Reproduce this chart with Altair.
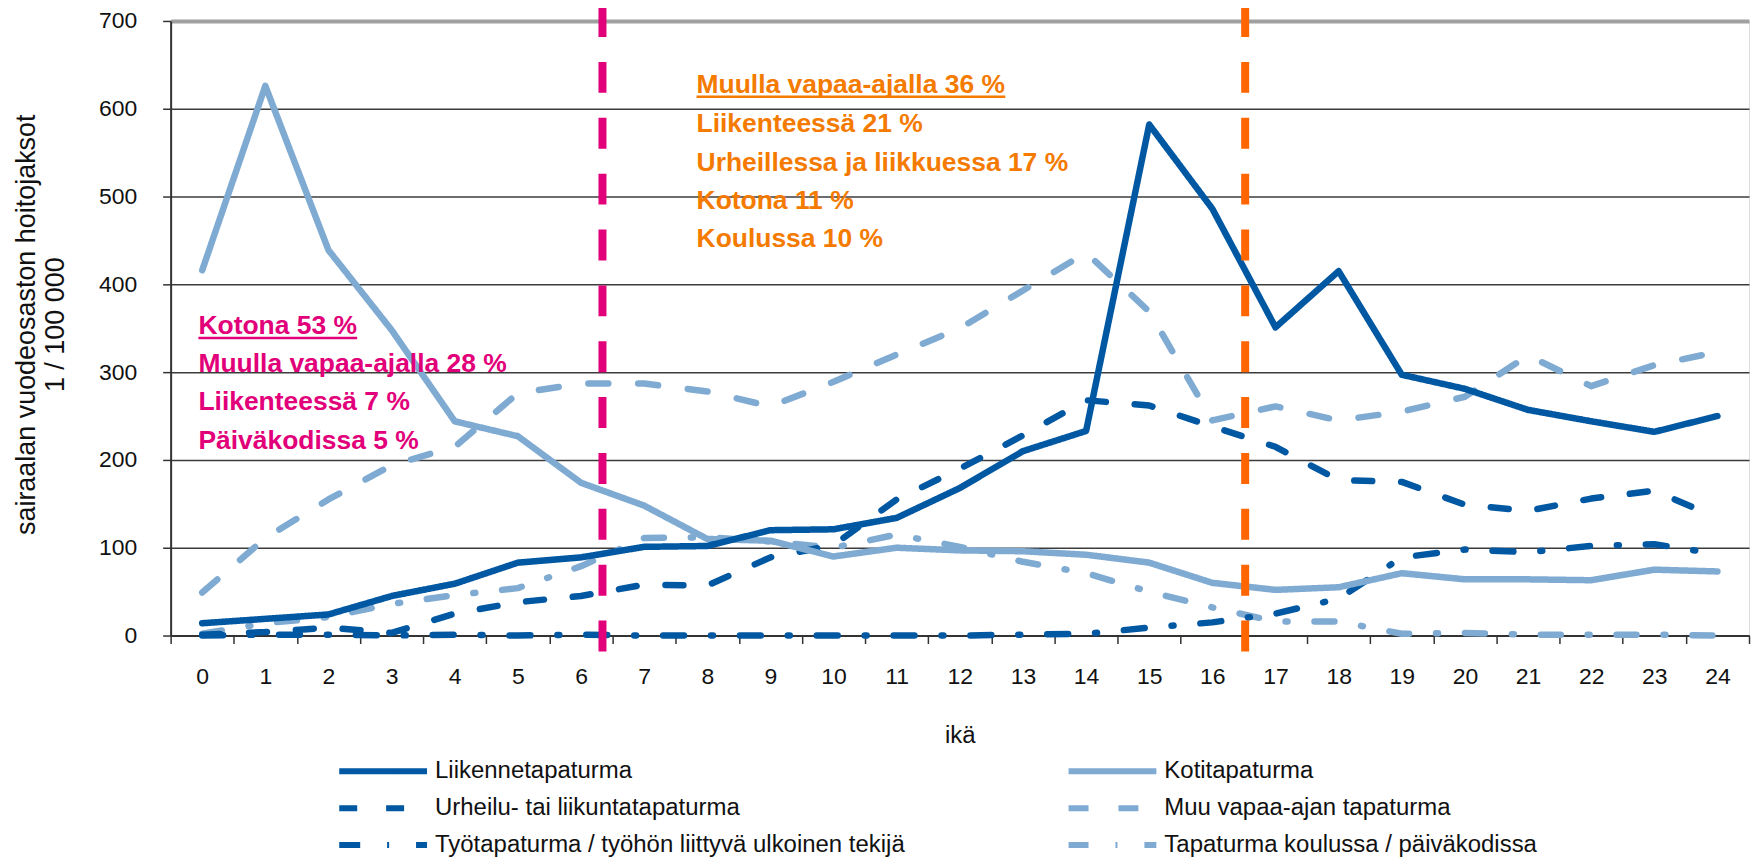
import altair as alt
import pandas as pd

# ---------------- data ----------------
ages = list(range(25))
series_names = [
    "Liikennetapaturma",
    "Kotitapaturma",
    "Urheilu- tai liikuntatapaturma",
    "Muu vapaa-ajan tapaturma",
    "Työtapaturma / työhön liittyvä ulkoinen tekijä",
    "Tapaturma koulussa / päiväkodissa",
]
liikenne = [14, 19, 24, 45, 59, 83, 89, 101, 102, 120, 121, 134, 168, 210, 233, 582, 486, 351, 415, 297, 281, 257, 244, 232, 250]
koti = [416, 626, 439, 348, 244, 227, 174, 148, 110, 108, 90, 100, 97, 96, 92, 83, 60, 52, 55, 71, 64, 64, 63, 75, 73]
urheilu = [1, 4, 9, 3, 25, 38, 45, 58, 57, 89, 103, 155, 190, 228, 268, 262, 238, 215, 177, 175, 149, 142, 156, 165, 134]
muu = [49, 111, 155, 194, 215, 276, 287, 287, 278, 261, 289, 320, 350, 393, 436, 369, 245, 261, 245, 255, 272, 319, 284, 308, 323]
tyo = [0, 1, 1, 0, 1, 0, 1, 0, 0, 0, 0, 0, 0, 1, 2, 9, 15, 25, 42, 89, 98, 95, 102, 104, 93]
koulu = [2, 14, 21, 36, 46, 54, 79, 111, 112, 107, 100, 115, 101, 84, 71, 50, 32, 16, 16, 2, 3, 1, 1, 1, 0]

y_ticks = [0, 100, 200, 300, 400, 500, 600, 700]

magenta_lines = ["Kotona 53 %", "Muulla vapaa-ajalla 28 %", "Liikenteessä 7 %", "Päiväkodissa 5 %"]
orange_lines = ["Muulla vapaa-ajalla 36 %", "Liikenteessä 21 %", "Urheillessa ja liikkuessa 17 %",
                "Kotona 11 %", "Koulussa 10 %"]
divider_ages = [6.34, 16.52]

DARK = "#0057A2"
LIGHT = "#7FAAD2"
MAGENTA = "#E2007A"
ORANGE_LINE = "#FF6600"
ORANGE_TEXT = "#F47A00"
FONT = "Liberation Sans"

# ---------------- tables ----------------
draw_order = [5, 4, 3, 2, 1, 0]
values_by_series = [liikenne, koti, urheilu, muu, tyo, koulu]
rows = []
for k in draw_order:
    for a, v in zip(ages, values_by_series[k]):
        rows.append({"age": a, "value": v, "series": series_names[k]})
df = pd.DataFrame(rows)

vlines = pd.DataFrame({
    "x": divider_ages,
    "top": [717, 717],
    "bottom": [-19, -19],
    "c": [MAGENTA, ORANGE_LINE],
})

text_df = pd.DataFrame(
    [{"x": -0.06, "y": y, "t": t, "c": MAGENTA} for t, y in zip(magenta_lines, [343, 300, 257, 212.5])]
    + [{"x": 7.83, "y": y, "t": t, "c": ORANGE_TEXT} for t, y in zip(orange_lines, [617.5, 573.5, 529.5, 486, 442])]
)
underline_df = pd.DataFrame({
    "x": [-0.06, 7.83],
    "x2": [2.455, 12.72],
    "y": [339, 613.6],
    "c": [MAGENTA, ORANGE_TEXT],
})

W, H = 1582, 616
band = W / 25.0

x_scale = alt.Scale(domain=[-0.5, 24.5], nice=False, zero=False)
y_scale = alt.Scale(domain=[0, 700], nice=False, zero=False)

x_axis = alt.Axis(
    values=[i - 0.5 for i in range(26)],
    labelExpr="datum.value < 24 ? format(datum.value + 0.5, 'd') : ''",
    labelOffset=band / 2,
    labelOverlap=False,
    labelBound=False,
    labelFlush=False,
    grid=False,
    ticks=True,
    tickSize=8,
    tickWidth=1.5,
    tickColor="#333333",
    domainColor="#333333",
    domainWidth=2,
    labelFont=FONT,
    labelFontSize=23,
    labelColor="#111111",
    labelPadding=22,
    title="ikä",
    titleFont=FONT,
    titleFontSize=24,
    titleFontWeight="normal",
    titleColor="#111111",
    titleY=100,
    titleBaseline="middle",
)
y_axis = alt.Axis(
    values=y_ticks,
    grid=True,
    gridColor={"condition": {"test": "datum.value === 700", "value": "#A0A0A0"}, "value": "#3C3C3C"},
    gridWidth={"condition": {"test": "datum.value === 700", "value": 4}, "value": 1.5},
    ticks=True,
    tickSize=8,
    tickWidth=1.5,
    tickColor="#333333",
    domainColor="#333333",
    domainWidth=2,
    labelFont=FONT,
    labelFontSize=23,
    labelColor="#111111",
    labelPadding=26,
    title=["sairaalan vuodeosaston hoitojaksot", "1 / 100 000"],
    titleFont=FONT,
    titleFontSize=27,
    titleFontWeight="normal",
    titleColor="#111111",
    titleLineHeight=29,
    titleAngle=270,
    titleAlign="center",
    titleBaseline="middle",
    titleX=-144,
    titleY=H / 2 - 4,
)

legend = alt.Legend(
    orient="none",
    direction="horizontal",
    legendX=188,
    legendY=727,
    columns=2,
    symbolType="M-2,0H2",
    symbolSize=1936,
    symbolStrokeWidth=6,
    labelFont=FONT,
    labelFontSize=24,
    labelColor="#111111",
    labelLimit=1000,
    labelOffset=27,
    rowPadding=0,
    columnPadding=152,
    padding=0,
)

lines = alt.Chart(df).mark_line(strokeWidth=6.5, strokeCap="round", strokeJoin="round").encode(
    x=alt.X("age:Q", scale=x_scale, axis=x_axis),
    y=alt.Y("value:Q", scale=y_scale, axis=y_axis),
    color=alt.Color("series:N", title=None,
                    scale=alt.Scale(domain=series_names, range=[DARK, LIGHT, DARK, LIGHT, DARK, LIGHT]),
                    legend=legend),
    strokeDash=alt.StrokeDash("series:N", title=None,
                              scale=alt.Scale(domain=series_names,
                                              range=[[1, 0], [1, 0], [18, 29], [20, 30],
                                                     [21, 27, 2, 27], [20, 27, 2, 27]]),
                              legend=legend),
    order=alt.Order("age:Q"),
)

dividers = alt.Chart(vlines).mark_rule(strokeWidth=8, strokeDash=[31, 25]).encode(
    x=alt.X("x:Q", scale=x_scale),
    y=alt.Y("top:Q", scale=y_scale),
    y2="bottom:Q",
    color=alt.Color("c:N", scale=None),
)

texts = alt.Chart(text_df).mark_text(
    align="left", baseline="alphabetic", font=FONT, fontWeight="bold", fontSize=26.5
).encode(
    x=alt.X("x:Q", scale=x_scale),
    y=alt.Y("y:Q", scale=y_scale),
    text="t:N",
    color=alt.Color("c:N", scale=None),
)

underlines = alt.Chart(underline_df).mark_rule(strokeWidth=2.5).encode(
    x=alt.X("x:Q", scale=x_scale),
    x2="x2:Q",
    y=alt.Y("y:Q", scale=y_scale),
    color=alt.Color("c:N", scale=None),
)

chart = alt.layer(lines, dividers, underlines, texts).properties(
    width=W,
    height=H,
    autosize=alt.AutoSizeParams(type="none"),
    padding={"left": 163, "top": 12, "right": 4, "bottom": 222},
).configure_view(
    stroke="#A0A0A0", strokeWidth=4
).configure(background="white")

chart.save("out.html", embed_options={"renderer": "svg", "actions": False})
